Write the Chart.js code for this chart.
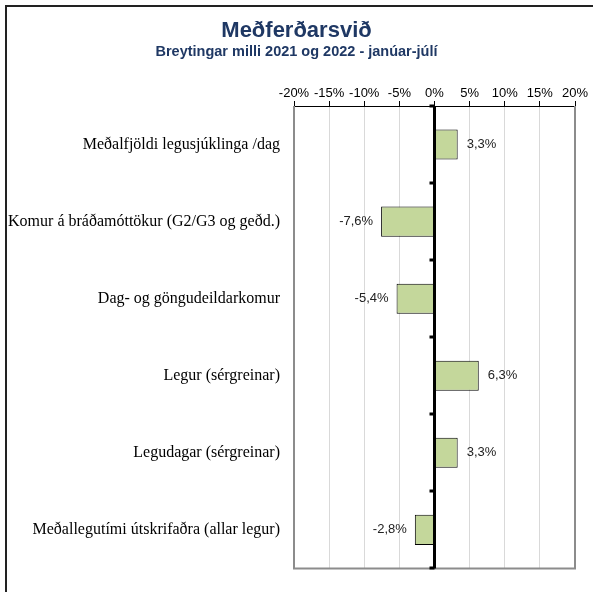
<!DOCTYPE html>
<html>
<head>
<meta charset="utf-8">
<script src="https://cdn.jsdelivr.net/npm/chart.js@4"></script>
<style>
  html, body { margin: 0; padding: 0; background: #fff; overflow: hidden; }
  #wrap { width: 593px; height: 592px; position: relative; }
</style>
</head>
<body>
<div id="wrap"><canvas id="myChart"></canvas></div>
<script>
const categories = [
  "Meðalfjöldi legusjúklinga /dag",
  "Komur á bráðamóttökur (G2/G3 og geðd.)",
  "Dag- og göngudeildarkomur",
  "Legur (sérgreinar)",
  "Legudagar (sérgreinar)",
  "Meðallegutími útskrifaðra (allar legur)"
];
const changes = [3.3, -7.6, -5.4, 6.3, 3.3, -2.8];
const axisMin = -20;
const axisMax = 20;
const axisStep = 5;

const titleText = 'Meðferðarsvið';
const subtitleText = 'Breytingar milli 2021 og 2022 - janúar-júlí';

const fmt = v => v.toFixed(1).replace('.', ',') + '%';

// frame, titles, zero line, boundary ticks and value labels
const extras = {
  id: 'extras',
  beforeDraw(chart) {
    const ctx = chart.ctx;
    ctx.save();
    ctx.strokeStyle = '#222';
    ctx.lineWidth = 2;
    ctx.beginPath();
    ctx.moveTo(6, chart.height);
    ctx.lineTo(6, 6);
    ctx.lineTo(chart.width, 6);
    ctx.stroke();

    const cx = chart.width / 2;
    ctx.fillStyle = '#1f3864';
    ctx.textAlign = 'center';
    ctx.textBaseline = 'middle';
    ctx.font = 'bold 22px "Liberation Sans", Arial, sans-serif';
    ctx.fillText(titleText, cx, 31);
    ctx.font = 'bold 14.5px "Liberation Sans", Arial, sans-serif';
    ctx.fillText(subtitleText, cx, 52);
    ctx.restore();
  },
  afterDatasetsDraw(chart) {
    const ctx = chart.ctx;
    const a = chart.chartArea;
    const xs = chart.scales.x;
    const ys = chart.scales.y;
    ctx.save();
    // gray frame on left, right and bottom
    ctx.strokeStyle = '#8c8c8c';
    ctx.lineWidth = 2;
    ctx.beginPath();
    ctx.moveTo(a.left, a.top);
    ctx.lineTo(a.left, a.bottom);
    ctx.lineTo(a.right, a.bottom);
    ctx.lineTo(a.right, a.top);
    ctx.stroke();

    // zero line
    const x0 = xs.getPixelForValue(0);
    ctx.strokeStyle = '#000';
    ctx.lineWidth = 3;
    ctx.beginPath();
    ctx.moveTo(x0, a.top);
    ctx.lineTo(x0, a.bottom);
    ctx.stroke();

    // small ticks between categories
    const half = (ys.getPixelForValue(1) - ys.getPixelForValue(0)) / 2;
    for (let i = 0; i <= categories.length; i++) {
      const y = Math.round(ys.getPixelForValue(i) - half);
      ctx.beginPath();
      ctx.moveTo(x0 - 5, y);
      ctx.lineTo(x0, y);
      ctx.stroke();
    }

    // value labels
    ctx.font = '13px "Liberation Sans", Arial, sans-serif';
    ctx.fillStyle = '#222';
    ctx.textBaseline = 'middle';
    chart.getDatasetMeta(0).data.forEach((bar, i) => {
      const v = changes[i];
      if (v >= 0) {
        ctx.textAlign = 'left';
        ctx.fillText(fmt(v), bar.x + 9, bar.y);
      } else {
        ctx.textAlign = 'right';
        ctx.fillText(fmt(v), bar.x - 8, bar.y);
      }
    });
    ctx.restore();
  }
};

const data = {
  labels: categories,
  datasets: [{
    data: changes,
    backgroundColor: '#c4d79b',
    borderColor: '#000',
    borderWidth: 1,
    borderSkipped: false,
    categoryPercentage: 1,
    barPercentage: 0.39
  }]
};

const config = {
  type: 'bar',
  data: data,
  options: {
    indexAxis: 'y',
    responsive: true,
    maintainAspectRatio: false,
    animation: false,
    layout: { padding: { left: 0, right: 18, top: 62, bottom: 21 } },
    plugins: {
      legend: { display: false },
      tooltip: { enabled: false }
    },
    scales: {
      x: {
        position: 'top',
        min: axisMin,
        max: axisMax,
        afterFit(scale) { scale.height = 44; },
        ticks: {
          stepSize: axisStep,
          padding: 0,
          maxRotation: 0,
          minRotation: 0,
          autoSkip: false,
          color: '#000',
          font: { family: '"Liberation Sans", Arial, sans-serif', size: 13 },
          callback: v => v + '%'
        },
        grid: {
          color: '#d9d9d9',
          lineWidth: 1,
          tickColor: '#000',
          tickLength: 5,
          tickWidth: 1
        },
        border: { display: true, color: '#000', width: 1 }
      },
      y: {
        afterFit(scale) { scale.width = 294; },
        grid: { display: false, drawTicks: false },
        border: { display: false },
        ticks: {
          padding: 14,
          color: '#000',
          font: { family: '"Liberation Serif", "Times New Roman", serif', size: 16 }
        }
      }
    }
  },
  plugins: [extras]
};

const myChart = new Chart(document.getElementById('myChart'), config);
</script>
</body>
</html>
